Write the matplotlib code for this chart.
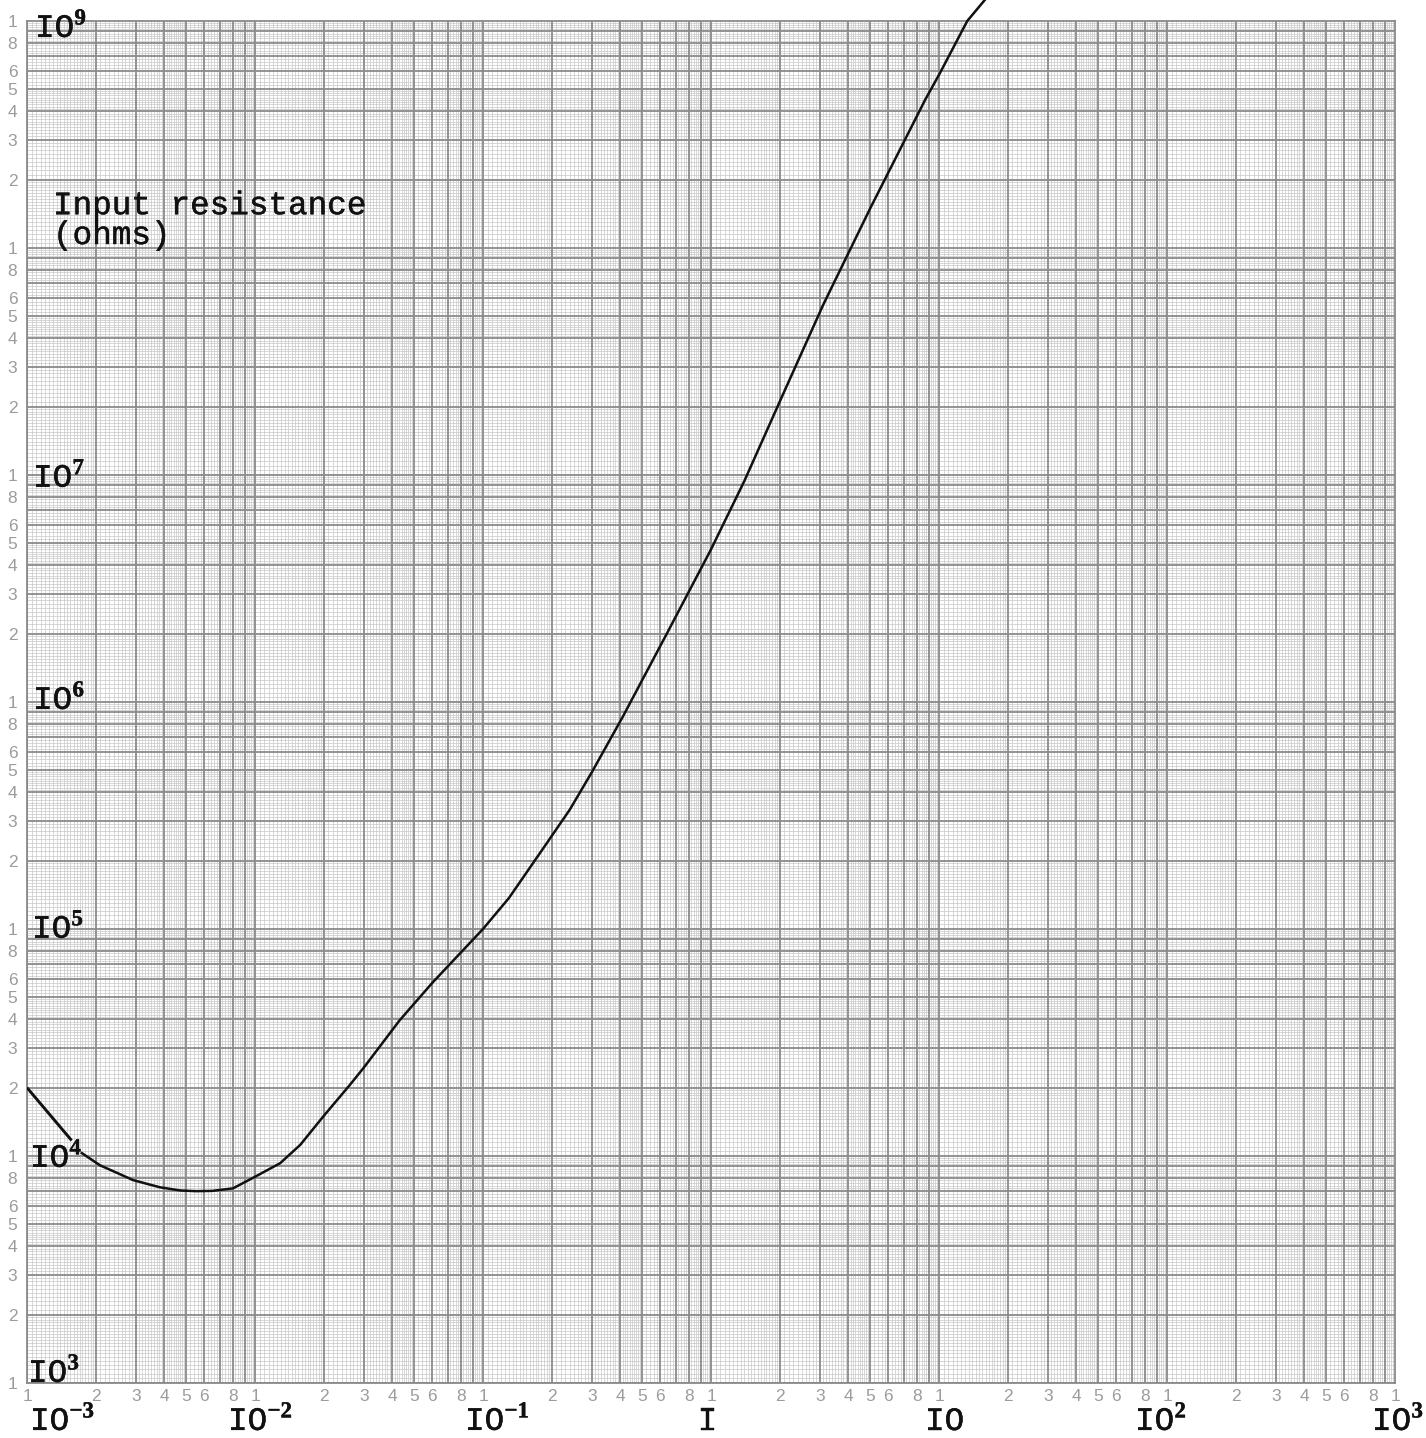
import numpy as np
import matplotlib
matplotlib.use("Agg")
import matplotlib.pyplot as plt
import matplotlib.patheffects as pe
from matplotlib.transforms import offset_copy

plt.rcParams['mathtext.fontset'] = 'custom'
plt.rcParams['mathtext.rm'] = 'Liberation Mono'
plt.rcParams['mathtext.bf'] = 'Liberation Serif:bold'

# curve (x, input resistance in ohms)
# first straight stroke, then a small gap where the "IO4" label sits
seg1_x = [1.0e-3, 1.57e-3]
seg1_y = [2.0e4, 1.17e4]

seg2_x = [1.74e-3, 2.09e-3, 2.5e-3, 2.92e-3, 3.83e-3, 4.7e-3, 5.5e-3, 6.5e-3,
          8.0e-3, 1.0e-2, 1.29e-2, 1.58e-2, 2.0e-2, 2.6e-2, 3.0e-2, 4.3e-2,
          6.0e-2, 0.1, 0.13, 0.18, 0.24, 0.3, 0.41, 0.64, 1.0, 1.4, 2.0, 3.1,
          5.0, 8.7, 10.1, 13.3, 15.9]
seg2_y = [1.03e4, 9.1e3, 8.4e3, 7.83e3, 7.28e3, 7.05e3, 7.0e3, 7.02e3,
          7.2e3, 8.1e3, 9.3e3, 1.12e4, 1.5e4, 2.05e4, 2.45e4, 3.95e4,
          5.8e4, 1.0e5, 1.37e5, 2.2e5, 3.35e5, 4.9e5, 8.6e5, 2.0e6, 4.7e6, 9.4e6,
          2.1e7, 5.6e7, 1.5e8, 4.5e8, 5.9e8, 1.0e9, 1.24e9]

x_decades = [-3, -2, -1, 0, 1, 2, 3]
y_decades = [3, 4, 5, 6, 7, 8, 9]
x_big_labels = [r'IO$^{\mathbf{-3}}$', r'IO$^{\mathbf{-2}}$', r'IO$^{\mathbf{-1}}$',
                'I', 'IO', r'IO$^{\mathbf{2}}$', r'IO$^{\mathbf{3}}$']
y_big_labels = [r'IO$^{\mathbf{3}}$', r'IO$^{\mathbf{4}}$', r'IO$^{\mathbf{5}}$',
                r'IO$^{\mathbf{6}}$', r'IO$^{\mathbf{7}}$', '', r'IO$^{\mathbf{9}}$']
small_marks = [1, 2, 3, 4, 5, 6, 8]

fig = plt.figure(figsize=(14.26, 14.38), dpi=100)
ax = fig.add_axes([27 / 1426, 55 / 1438, 1368 / 1426, 1362 / 1438])
ax.set_xscale('log')
ax.set_yscale('log')
ax.set_xlim(1e-3, 1e3)
ax.set_ylim(1e3, 1e9)

# graph paper grid: 1-2 in 0.05, 2-5 in 0.1, 5-10 in 0.2
fine = list(np.arange(1.05, 2.0, 0.05)) + list(np.arange(2.1, 5.0, 0.1)) + list(np.arange(5.2, 10, 0.2))
fine = [f for f in fine if abs(f - round(f)) > 1e-6]
for d in range(-3, 3):
    for f in fine:
        ax.axvline(f * 10.0 ** d, color='#c8c8c8', lw=0.5, zorder=1)
    for m in range(1, 10):
        ax.axvline(m * 10.0 ** d, color='#8a8a8a', lw=1.3, zorder=2)
for d in range(3, 9):
    for f in fine:
        ax.axhline(f * 10.0 ** d, color='#c8c8c8', lw=0.5, zorder=1)
    for m in range(1, 10):
        ax.axhline(m * 10.0 ** d, color='#8a8a8a', lw=1.3, zorder=2)
for s in ax.spines.values():
    s.set_color('#8a8a8a')
    s.set_linewidth(1.3)

# small grey printed numbers
xt = [m * 10.0 ** d for d in range(-3, 3) for m in small_marks] + [1e3]
yt = [m * 10.0 ** d for d in range(3, 9) for m in small_marks] + [1e9]
ax.set_xticks(xt)
ax.set_xticklabels([str(m) for d in range(-3, 3) for m in small_marks] + ['1'])
ax.set_yticks(yt)
ax.set_yticklabels([str(m) for d in range(3, 9) for m in small_marks] + ['1'])
ax.minorticks_off()
ax.tick_params(length=0, colors='#9c9c9c', labelsize=12.5)
ax.tick_params(axis='x', pad=4)
ax.tick_params(axis='y', pad=7)
for lab in ax.get_xticklabels() + ax.get_yticklabels():
    lab.set_family('Liberation Sans')

# the curve
ax.plot(seg1_x, seg1_y, color='#111111', lw=2.1, zorder=5, solid_capstyle='butt')
ax.plot(seg2_x, seg2_y, color='#111111', lw=1.8, zorder=5, clip_on=False)

# typed labels
ink = [pe.withStroke(linewidth=0.3, foreground='#111111')]
big = dict(family='Liberation Mono', fontsize=23.5, color='#111111', zorder=6, path_effects=ink)
x_dx = [3, -27, -18, -13, -14, -32, -23]
for d, lab, dx in zip(x_decades, x_big_labels, x_dx):
    tr = offset_copy(ax.get_xaxis_transform(), fig=fig, x=dx, y=-47, units='dots')
    ax.text(10.0 ** d, 0, lab, transform=tr, ha='left', va='baseline', **big)

y_dy = [1, -11, -9, -7, -12, 0, -16]
y_dx = [1, 3, 5, 6, 6, 0, 8]
for d, lab, dy, dx in zip(y_decades, y_big_labels, y_dy, y_dx):
    if not lab:
        continue
    tr = offset_copy(ax.get_yaxis_transform(), fig=fig, x=dx, y=dy, units='dots')
    ax.text(0, 10.0 ** d, lab, transform=tr, ha='left', va='baseline', **big)

ax.text(26 / 1368, (1383 - 244) / 1362, 'Input resistance\n(ohms)', transform=ax.transAxes,
        ha='left', va='baseline', linespacing=0.95, **big)

fig.savefig('out.png', dpi=100, facecolor='white')
